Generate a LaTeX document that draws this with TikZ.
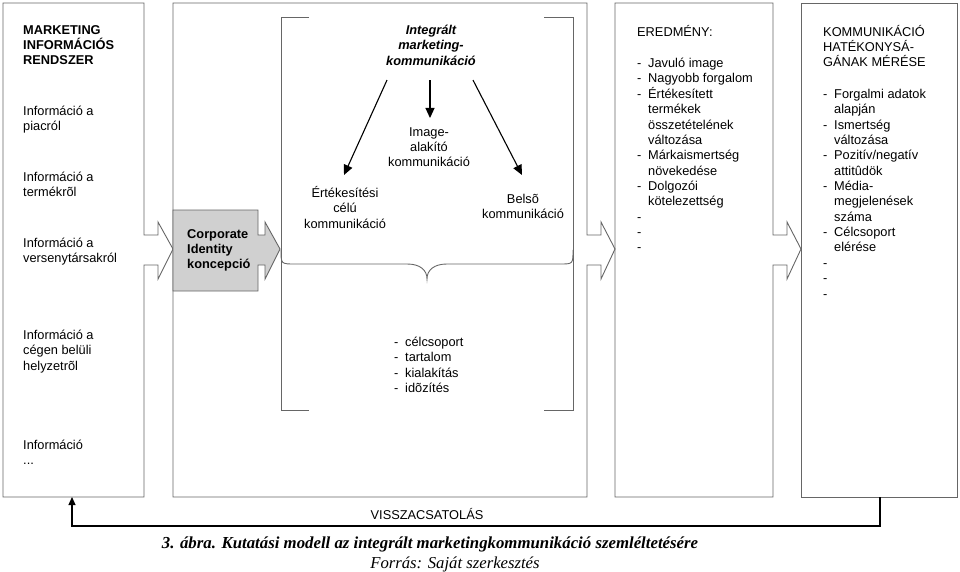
\documentclass[tikz,border=0pt]{standalone}
\usepackage{fontspec}
\setmainfont{Liberation Sans}
\newfontfamily\capfont{Liberation Serif}
\usetikzlibrary{arrows.meta}
\definecolor{cigray}{RGB}{208,208,208}
\newcommand{\litem}[1]{\makebox[11pt][l]{-}#1}
\newcommand{\lcont}[1]{\hspace*{11pt}#1}
\tikzset{
  frame/.style={draw=black!60, line width=0.9pt},
  txt/.style={font=\fontsize{12.8}{15.35}\selectfont, align=left, anchor=north west, inner sep=0pt, execute at begin node=\strut},
  btxt/.style={txt, font=\fontsize{12.8}{15.35}\selectfont\bfseries},
  ctxt/.style={txt, align=center, anchor=north},
  arr/.style={-{Triangle[length=10pt,width=9pt]}, line width=1.1pt},
  fb/.style={-{Triangle[length=8pt,width=7pt]}, line width=1.2pt}
}
\begin{document}
\begin{tikzpicture}[x=1pt,y=-1pt]
\useasboundingbox (0,0) rectangle (960,572);
% Dobozok nyilakkal
\draw[frame] (3,3) -- (144,3) -- (144,235) -- (158,235) -- (158,222) -- (173,249) -- (158,279) -- (158,265) -- (144,265) -- (144,497) -- (3,497) -- cycle;
\draw[frame] (173,3) -- (587,3) -- (587,235) -- (601,235) -- (601,222) -- (615,249) -- (601,279) -- (601,265) -- (587,265) -- (587,497) -- (173,497) -- cycle;
\draw[frame, fill=cigray] (173,210) -- (258,210) -- (258,235) -- (265,235) -- (265,222) -- (280,249) -- (265,279) -- (265,265) -- (258,265) -- (258,291) -- (173,291) -- cycle;
\draw[frame] (615,3) -- (773,3) -- (773,235) -- (787,235) -- (787,222) -- (801,249) -- (787,279) -- (787,265) -- (773,265) -- (773,497) -- (615,497) -- cycle;
\draw[frame] (801,3) rectangle (957,497);
% Zarojel es kapcsos zarojel
\draw[frame] (309,17) -- (281,17) -- (281,410) -- (309,410);
\draw[frame] (544,17) -- (573,17) -- (573,410) -- (544,410);
\draw[frame] (281,250) .. controls (281,264) .. (295,264) -- (407,264)
  .. controls (420,264) and (427,270) .. (427,279)
  .. controls (427,270) and (434,264) .. (447,264) -- (560,264)
  .. controls (573,264) .. (573,250);
% Szovegek
\node[btxt] (mir) at (23,25) {MARKETING\\INFORMÁCIÓS\\RENDSZER};
\node[txt] (piac) at (23,106) {Információ a\\piacról};
\node[txt] (termek) at (23,172) {Információ a\\termékrõl};
\node[txt] (verseny) at (23,238) {Információ a\\versenytársakról};
\node[txt] (cegen) at (23,330) {Információ a\\cégen belüli\\helyzetrõl};
\node[txt] (info) at (23,440) {Információ\\...};
\node[btxt] (ci) at (187,229) {Corporate\\Identity\\koncepció};
\node[ctxt, font=\fontsize{12.8}{15.35}\selectfont\bfseries\itshape] (imk) at (431,25) {Integrált\\marketing-\\kommunikáció};
\node[ctxt] (img) at (429,127) {Image-\\alakító\\kommunikáció};
\node[ctxt] (ert) at (345,186) {Értékesítési\\célú\\kommunikáció};
\node[ctxt] (belso) at (523,194) {Belsõ\\kommunikáció};
\node[txt] (szemp) at (394,337) {\litem{célcsoport}\\\litem{tartalom}\\\litem{kialakítás}\\\litem{idõzítés}};
\node[txt] (eredfej) at (637,25) {EREDMÉNY:};
\node[txt] (ered) at (637,58) {\litem{Javuló image}\\\litem{Nagyobb forgalom}\\\litem{Értékesített}\\\lcont{termékek}\\\lcont{összetételének}\\\lcont{változása}\\\litem{Márkaismertség}\\\lcont{növekedése}\\\litem{Dolgozói}\\\lcont{kötelezettség}\\-\\-\\-};
\node[txt] (kommfej) at (823,25) {KOMMUNIKÁCIÓ\\HATÉKONYSÁ-\\GÁNAK MÉRÉSE};
\node[txt] (komm) at (823,89) {\litem{Forgalmi adatok}\\\lcont{alapján}\\\litem{Ismertség}\\\lcont{változása}\\\litem{Pozitív/negatív}\\\lcont{attitûdök}\\\litem{Média-}\\\lcont{megjelenések}\\\lcont{száma}\\\litem{Célcsoport}\\\lcont{elérése}\\-\\-\\-};
% Nyilak
\draw[arr] ([xshift=-44pt,yshift=-10pt]imk.south) -- ([xshift=-1pt,yshift=11pt]ert.north);
\draw[arr] ([xshift=-1pt,yshift=-10pt]imk.south) -- ([xshift=1pt,yshift=9pt]img.north);
\draw[arr] ([xshift=42pt,yshift=-10pt]imk.south) -- ([xshift=-1pt,yshift=19pt]belso.north);
% Visszacsatolas
\coordinate (kommS) at (880,497);
\coordinate (mirS) at (72,497);
\draw[fb] (kommS) -- ++(0,29) -| (mirS);
\node[font=\fontsize{12.8}{15.35}\selectfont, anchor=base, inner sep=0pt] (vissza) at (427,519.5) {VISSZACSATOLÁS};
% Abrafelirat
\node[font=\capfont\fontsize{16.8}{19}\selectfont\bfseries\itshape, anchor=base, inner sep=0pt] (cim) at (430,548.5) {3. ábra. Kutatási modell az integrált marketingkommunikáció szemléltetésére};
\node[font=\capfont\fontsize{16.7}{19}\selectfont\itshape, anchor=base, inner sep=0pt] (forras) at (455,568.5) {Forrás: Saját szerkesztés};
\end{tikzpicture}
\end{document}
